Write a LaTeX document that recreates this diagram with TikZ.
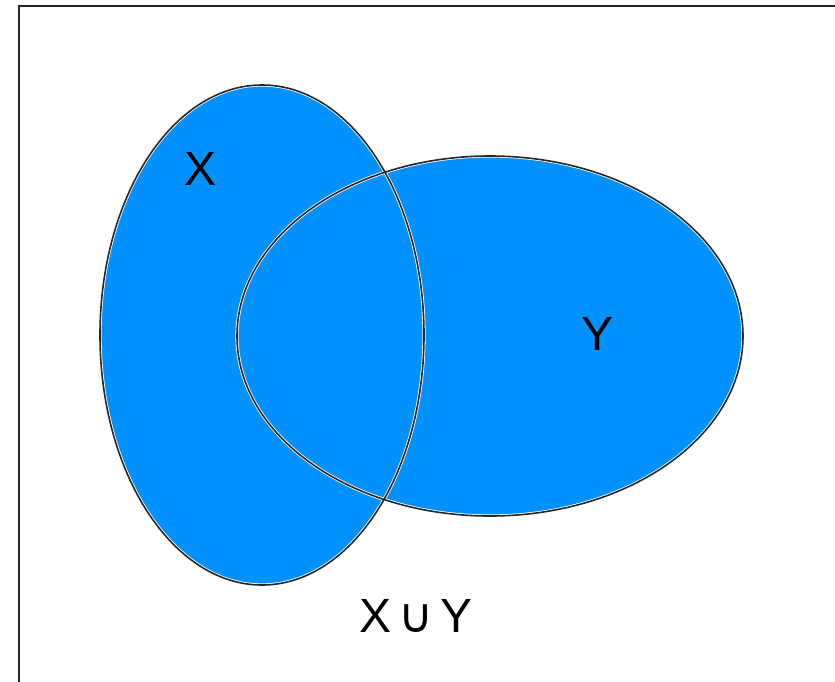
\documentclass[tikz,border=0pt]{standalone}
\usepackage{fontspec}
\setmainfont{Liberation Sans}
\newfontfamily\symfont{DejaVu Sans}
\definecolor{setblue}{RGB}{0,145,255}
\begin{document}
\begin{tikzpicture}[x=1pt,y=-1pt,
  setfill/.style={fill=setblue},
  halo/.style={draw=white,line width=3.2pt},
  outline/.style={draw=black!85,line width=1.6pt},
  lbl/.style={font=\fontsize{48}{50}\selectfont,inner sep=0pt,anchor=base}]
\useasboundingbox (0,0) rectangle (835,681);
\draw[line width=2.5pt,black!85] (19,690) -- (19,6) -- (845,6);
% fills
\fill[setfill] (262,335) ellipse [x radius=162,y radius=250];
\fill[setfill] (490,336) ellipse [x radius=253,y radius=180];
% outlines
\draw[halo] (262,335) ellipse [x radius=162,y radius=250];
\draw[halo] (490,336) ellipse [x radius=253,y radius=180];
\draw[outline] (262,335) ellipse [x radius=162,y radius=250];
\draw[outline] (490,336) ellipse [x radius=253,y radius=180];
% labels
\node[lbl] (lx) at (201,185) {X};
\node[lbl] (ly) at (598,350) {Y};
\node[lbl] (lu) at (416,632) {X\hspace{7pt}{\symfont\fontsize{48}{50}\selectfont ∪}\hspace{7pt}Y};
\end{tikzpicture}
\end{document}
